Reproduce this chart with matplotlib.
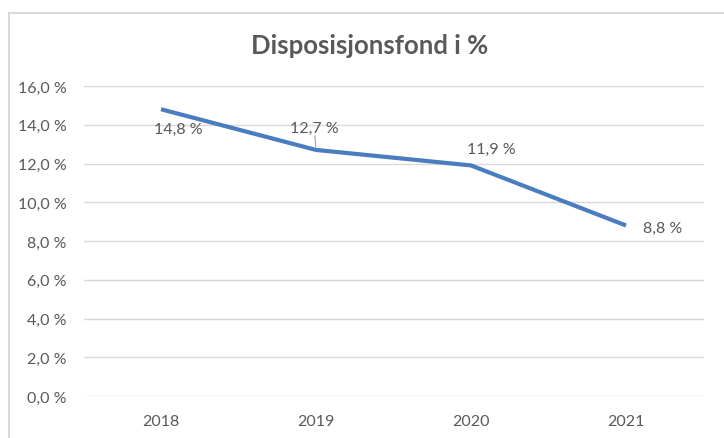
import matplotlib.pyplot as plt
from matplotlib.patches import Rectangle

# data
years = ["2018", "2019", "2020", "2021"]
values = [14.8, 12.7, 11.9, 8.8]
value_labels = ["14,8 %", "12,7 %", "11,9 %", "8,8 %"]
y_ticks = [0, 2, 4, 6, 8, 10, 12, 14, 16]
y_tick_labels = ["0,0 %", "2,0 %", "4,0 %", "6,0 %", "8,0 %", "10,0 %", "12,0 %", "14,0 %", "16,0 %"]

W, H = 724, 439
plt.rcParams['font.family'] = ['Lato', 'DejaVu Sans']
text_col = '#595959'
grid_col = '#d9d9d9'
line_col = '#4a7cc0'

fig = plt.figure(figsize=(W / 100, H / 100), dpi=100)

# plot area in pixels
left, right, top, bottom = 83.5, 703.5, 87, 397
ax = fig.add_axes([left / W, (H - bottom) / H, (right - left) / W, (bottom - top) / H])

x = list(range(len(years)))
ax.plot(x, values, color=line_col, lw=3, solid_capstyle='butt', zorder=3)

ax.set_xlim(-0.5, len(years) - 0.5)
ax.set_ylim(0, 16)
ax.set_xticks(x)
ax.set_xticklabels(years)
ax.set_yticks(y_ticks)
ax.set_yticklabels(y_tick_labels)
ax.tick_params(axis='both', length=0, labelsize=11.5, colors=text_col)
ax.tick_params(axis='x', pad=13)
ax.tick_params(axis='y', pad=12)
ax.yaxis.grid(True, color=grid_col, lw=1)
ax.set_axisbelow(True)
for s in ax.spines.values():
    s.set_visible(False)

# data labels, offsets in pixels (dx right, dy down)
offsets = [(17, 20), (-2, -22), (20, -17), (37, 2)]
for i, (v, lab, off) in enumerate(zip(values, value_labels, offsets)):
    ax.annotate(lab, (i, v), xytext=(off[0] * 0.72, -off[1] * 0.72),
                textcoords='offset points', ha='center', va='center',
                fontsize=11.5, color=text_col)

# leader line for 2019 label
ax.annotate('', (1, values[1]), xytext=(-1 * 0.72, 14 * 0.72),
            textcoords='offset points',
            arrowprops=dict(arrowstyle='-', color='#a6a6a6', lw=0.8,
                            shrinkA=0, shrinkB=2))

fig.text(370 / W, 1 - 46 / H, "Disposisjonsfond i %", ha='center', va='center',
         fontsize=18.5, fontweight='bold', color=text_col)

# chart border (cut by the image edge on right and bottom)
fig.add_artist(Rectangle((8.5 / W, -0.1), 1.0, (H - 13.5) / H + 0.1,
                         transform=fig.transFigure, fill=False,
                         ec=grid_col, lw=1.5))

fig.savefig("out.png", dpi=100)
